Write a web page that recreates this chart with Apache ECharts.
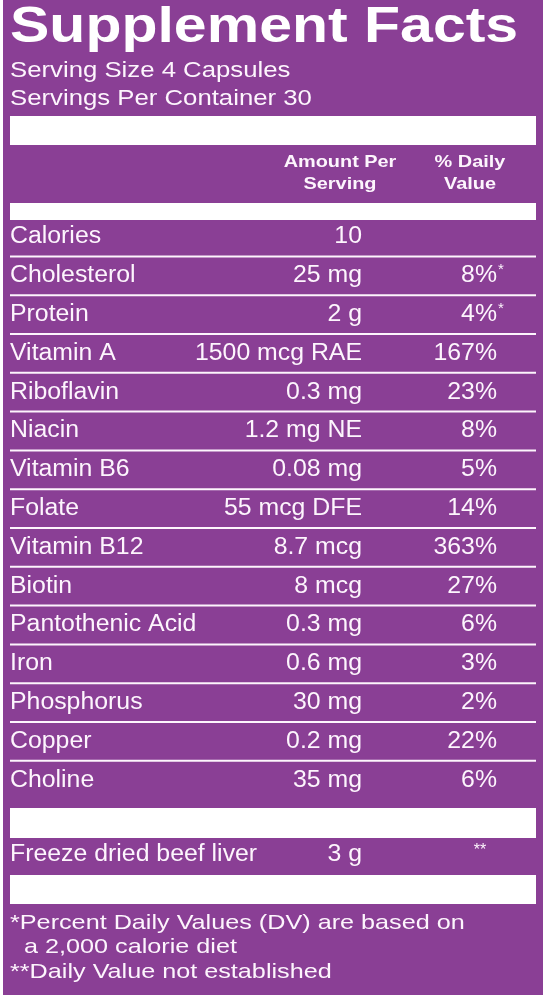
<!DOCTYPE html>
<html><head><meta charset="utf-8">
<script src="https://cdn.jsdelivr.net/npm/echarts@6/dist/echarts.min.js"></script>
<style>html,body{margin:0;padding:0;background:#fff}#c{width:546px;height:1000px}</style>
</head><body><div id="c"></div>
<script>
var nutrients = ["Calories","Cholesterol","Protein","Vitamin A","Riboflavin","Niacin","Vitamin B6","Folate","Vitamin B12","Biotin","Pantothenic Acid","Iron","Phosphorus","Copper","Choline"];
var amounts = ["10","25 mg","2 g","1500 mcg RAE","0.3 mg","1.2 mg NE","0.08 mg","55 mcg DFE","8.7 mcg","8 mcg","0.3 mg","0.6 mg","30 mg","0.2 mg","35 mg"];
var dailyValues = ["","8%*","4%*","167%","23%","8%","5%","14%","363%","27%","6%","3%","2%","22%","6%"];
var extraName = "Freeze dried beef liver", extraAmount = "3 g", extraDV = "**";
var footnotes = ["*Percent Daily Values (DV) are based on","  a 2,000 calorie diet","**Daily Value not established"];

var F = "'Liberation Sans', Arial, sans-serif";
var PURPLE = "#8a3f95", W = "#fdf5fd";
var g = [];
function txt(x,y,t,size,opts){
  opts=opts||{};
  g.push({type:'text',x:x,y:y,scaleX:opts.sx||1,style:{text:t,font:(opts.bold?'bold ':'')+size+'px '+F,fill:opts.fill||W,align:opts.align||'left',verticalAlign:'middle'}});
}
g.push({type:'rect',shape:{x:3,y:0,width:540,height:995},style:{fill:PURPLE}});
txt(10,28,'Supplement Facts',50,{bold:true,sx:1.18,fill:'#fff'});
txt(10,71,'Serving Size 4 Capsules',22,{sx:1.17});
txt(10,99,'Servings Per Container 30',22,{sx:1.17});
function bar(y,h){g.push({type:'rect',shape:{x:10,y:y,width:526,height:h},style:{fill:'#fff'}});}
bar(116,29);
txt(340,162,'Amount Per',17,{bold:true,sx:1.17,align:'center'});
txt(340,184,'Serving',17,{bold:true,sx:1.17,align:'center'});
txt(470,162,'% Daily',17,{bold:true,sx:1.17,align:'center'});
txt(470,184,'Value',17,{bold:true,sx:1.17,align:'center'});
bar(203,17);
var y0=237, pitch=38.8, RS=23, RX=1.08;
function dv(t,y){
  var star = t.endsWith('*') ? '*' : '';
  var main = star ? t.slice(0,-1) : t;
  txt(497,y,main,RS,{sx:RX,align:'right'});
  if(star) txt(498,y-6,'*',15);
}
nutrients.forEach(function(n,i){
  var y=y0+i*pitch;
  txt(10,y,n,RS,{sx:RX});
  txt(362,y,amounts[i],RS,{sx:RX,align:'right'});
  if(dailyValues[i]) dv(dailyValues[i],y);
  if(i<nutrients.length-1) g.push({type:'rect',shape:{x:10,y:y+pitch/2-1,width:526,height:2},style:{fill:W}});
});
bar(808,30);
txt(10,855,extraName,RS,{sx:RX});
txt(362,855,extraAmount,RS,{sx:RX,align:'right'});
txt(480,851,extraDV,16,{align:'center'});
bar(875,29);
footnotes.forEach(function(t,i){ txt(10,923+i*24.5,t,21,{sx:1.2}); });
var chart = echarts.init(document.getElementById('c'));
chart.setOption({animation:false,graphic:g});
</script></body></html>
